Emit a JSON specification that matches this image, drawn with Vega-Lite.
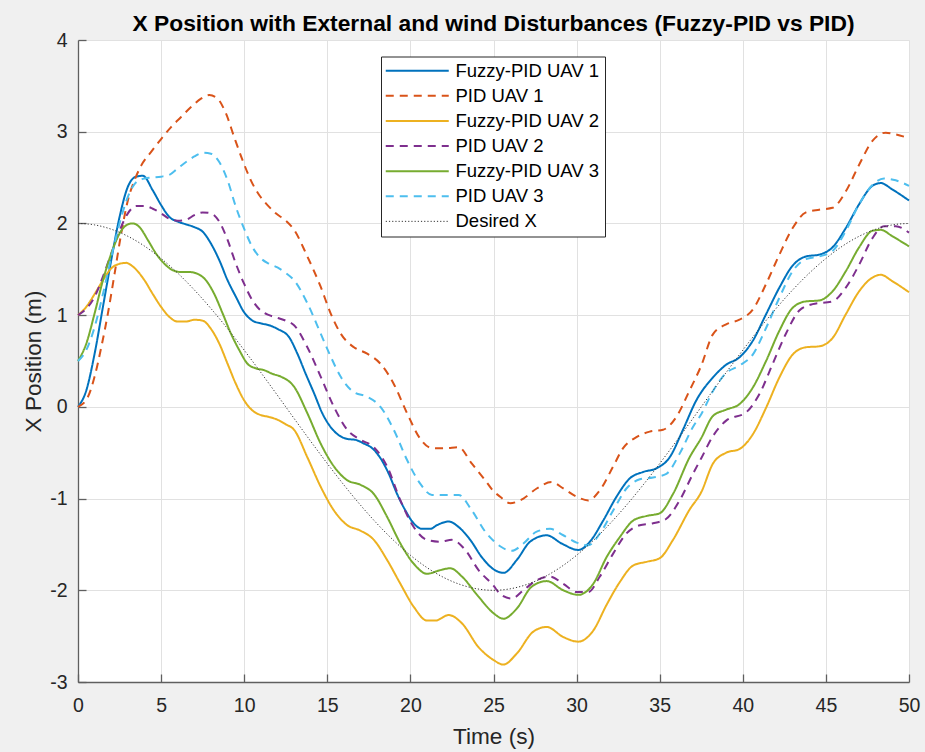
{
  "$schema": "https://vega.github.io/schema/vega-lite/v6.json",
  "width": 831,
  "height": 642,
  "autosize": {"type": "none"},
  "padding": {"left": 78, "top": 40, "right": 16, "bottom": 70},
  "background": "#f0f0f0",
  "title": {
    "text": "X Position with External and wind Disturbances (Fuzzy-PID vs PID)",
    "font": "Liberation Sans",
    "fontSize": 22.8,
    "fontWeight": "bold",
    "color": "#000000",
    "anchor": "middle",
    "offset": -6
  },
  "config": {
    "view": {"fill": "white", "stroke": null},
    "font": "Liberation Sans",
    "axis": {
      "labelFont": "Liberation Sans",
      "titleFont": "Liberation Sans",
      "labelFontSize": 19.5,
      "titleFontSize": 22.6,
      "titleFontWeight": "normal",
      "labelColor": "#262626",
      "titleColor": "#262626",
      "domainColor": "#5f5f5f",
      "domainWidth": 1.3,
      "tickColor": "#5f5f5f",
      "tickWidth": 1.3,
      "tickSize": -8,
      "gridColor": "#e1e1e1",
      "gridWidth": 1
    }
  },
  "data": {
    "values": [
      {"series": "Fuzzy-PID UAV 1", "time": 0, "pos": 0},
      {"series": "Fuzzy-PID UAV 1", "time": 0.5, "pos": 0.18},
      {"series": "Fuzzy-PID UAV 1", "time": 1.0, "pos": 0.58},
      {"series": "Fuzzy-PID UAV 1", "time": 1.5, "pos": 1.09},
      {"series": "Fuzzy-PID UAV 1", "time": 2.0, "pos": 1.6},
      {"series": "Fuzzy-PID UAV 1", "time": 2.5, "pos": 2.07},
      {"series": "Fuzzy-PID UAV 1", "time": 3.0, "pos": 2.4},
      {"series": "Fuzzy-PID UAV 1", "time": 3.5, "pos": 2.51},
      {"series": "Fuzzy-PID UAV 1", "time": 3.9, "pos": 2.52},
      {"series": "Fuzzy-PID UAV 1", "time": 4.5, "pos": 2.36},
      {"series": "Fuzzy-PID UAV 1", "time": 5.0, "pos": 2.2},
      {"series": "Fuzzy-PID UAV 1", "time": 5.5, "pos": 2.07},
      {"series": "Fuzzy-PID UAV 1", "time": 6.0, "pos": 2.02},
      {"series": "Fuzzy-PID UAV 1", "time": 6.5, "pos": 1.99},
      {"series": "Fuzzy-PID UAV 1", "time": 7.0, "pos": 1.96},
      {"series": "Fuzzy-PID UAV 1", "time": 7.5, "pos": 1.91},
      {"series": "Fuzzy-PID UAV 1", "time": 8.0, "pos": 1.78},
      {"series": "Fuzzy-PID UAV 1", "time": 8.5, "pos": 1.6},
      {"series": "Fuzzy-PID UAV 1", "time": 9.0, "pos": 1.38},
      {"series": "Fuzzy-PID UAV 1", "time": 9.5, "pos": 1.2},
      {"series": "Fuzzy-PID UAV 1", "time": 10.0, "pos": 1.03},
      {"series": "Fuzzy-PID UAV 1", "time": 10.5, "pos": 0.94},
      {"series": "Fuzzy-PID UAV 1", "time": 11.0, "pos": 0.91},
      {"series": "Fuzzy-PID UAV 1", "time": 11.5, "pos": 0.89},
      {"series": "Fuzzy-PID UAV 1", "time": 12.0, "pos": 0.85},
      {"series": "Fuzzy-PID UAV 1", "time": 12.7, "pos": 0.76},
      {"series": "Fuzzy-PID UAV 1", "time": 13.2, "pos": 0.58},
      {"series": "Fuzzy-PID UAV 1", "time": 13.7, "pos": 0.36},
      {"series": "Fuzzy-PID UAV 1", "time": 14.2, "pos": 0.15},
      {"series": "Fuzzy-PID UAV 1", "time": 14.7, "pos": -0.07},
      {"series": "Fuzzy-PID UAV 1", "time": 15.2, "pos": -0.22},
      {"series": "Fuzzy-PID UAV 1", "time": 15.7, "pos": -0.31},
      {"series": "Fuzzy-PID UAV 1", "time": 16.2, "pos": -0.35},
      {"series": "Fuzzy-PID UAV 1", "time": 16.7, "pos": -0.36},
      {"series": "Fuzzy-PID UAV 1", "time": 17.2, "pos": -0.4},
      {"series": "Fuzzy-PID UAV 1", "time": 17.7, "pos": -0.45},
      {"series": "Fuzzy-PID UAV 1", "time": 18.2, "pos": -0.56},
      {"series": "Fuzzy-PID UAV 1", "time": 18.7, "pos": -0.73},
      {"series": "Fuzzy-PID UAV 1", "time": 19.2, "pos": -0.95},
      {"series": "Fuzzy-PID UAV 1", "time": 19.7, "pos": -1.13},
      {"series": "Fuzzy-PID UAV 1", "time": 20.2, "pos": -1.27},
      {"series": "Fuzzy-PID UAV 1", "time": 20.7, "pos": -1.33},
      {"series": "Fuzzy-PID UAV 1", "time": 21.2, "pos": -1.33},
      {"series": "Fuzzy-PID UAV 1", "time": 21.6, "pos": -1.29},
      {"series": "Fuzzy-PID UAV 1", "time": 22.3, "pos": -1.25},
      {"series": "Fuzzy-PID UAV 1", "time": 22.9, "pos": -1.31},
      {"series": "Fuzzy-PID UAV 1", "time": 23.6, "pos": -1.45},
      {"series": "Fuzzy-PID UAV 1", "time": 24.3, "pos": -1.64},
      {"series": "Fuzzy-PID UAV 1", "time": 25.0, "pos": -1.77},
      {"series": "Fuzzy-PID UAV 1", "time": 25.6, "pos": -1.81},
      {"series": "Fuzzy-PID UAV 1", "time": 26.4, "pos": -1.67},
      {"series": "Fuzzy-PID UAV 1", "time": 27.2, "pos": -1.47},
      {"series": "Fuzzy-PID UAV 1", "time": 28.2, "pos": -1.4},
      {"series": "Fuzzy-PID UAV 1", "time": 29.1, "pos": -1.49},
      {"series": "Fuzzy-PID UAV 1", "time": 30.1, "pos": -1.56},
      {"series": "Fuzzy-PID UAV 1", "time": 30.8, "pos": -1.47},
      {"series": "Fuzzy-PID UAV 1", "time": 31.6, "pos": -1.24},
      {"series": "Fuzzy-PID UAV 1", "time": 32.4, "pos": -0.98},
      {"series": "Fuzzy-PID UAV 1", "time": 33.2, "pos": -0.78},
      {"series": "Fuzzy-PID UAV 1", "time": 34.0, "pos": -0.71},
      {"series": "Fuzzy-PID UAV 1", "time": 34.8, "pos": -0.67},
      {"series": "Fuzzy-PID UAV 1", "time": 35.6, "pos": -0.55},
      {"series": "Fuzzy-PID UAV 1", "time": 36.4, "pos": -0.25},
      {"series": "Fuzzy-PID UAV 1", "time": 37.2, "pos": 0.07},
      {"series": "Fuzzy-PID UAV 1", "time": 38.2, "pos": 0.32},
      {"series": "Fuzzy-PID UAV 1", "time": 39.0, "pos": 0.46},
      {"series": "Fuzzy-PID UAV 1", "time": 39.8, "pos": 0.54},
      {"series": "Fuzzy-PID UAV 1", "time": 40.6, "pos": 0.72},
      {"series": "Fuzzy-PID UAV 1", "time": 41.4, "pos": 1.01},
      {"series": "Fuzzy-PID UAV 1", "time": 42.2, "pos": 1.3},
      {"series": "Fuzzy-PID UAV 1", "time": 43.0, "pos": 1.54},
      {"series": "Fuzzy-PID UAV 1", "time": 43.8, "pos": 1.64},
      {"series": "Fuzzy-PID UAV 1", "time": 44.6, "pos": 1.66},
      {"series": "Fuzzy-PID UAV 1", "time": 45.4, "pos": 1.74},
      {"series": "Fuzzy-PID UAV 1", "time": 46.2, "pos": 1.95},
      {"series": "Fuzzy-PID UAV 1", "time": 47.0, "pos": 2.21},
      {"series": "Fuzzy-PID UAV 1", "time": 47.8, "pos": 2.41},
      {"series": "Fuzzy-PID UAV 1", "time": 48.3, "pos": 2.44},
      {"series": "Fuzzy-PID UAV 1", "time": 49.0, "pos": 2.37},
      {"series": "Fuzzy-PID UAV 1", "time": 50.0, "pos": 2.25},

      {"series": "PID UAV 1", "time": 0, "pos": 0},
      {"series": "PID UAV 1", "time": 0.6, "pos": 0.11},
      {"series": "PID UAV 1", "time": 1.0, "pos": 0.33},
      {"series": "PID UAV 1", "time": 1.4, "pos": 0.65},
      {"series": "PID UAV 1", "time": 1.8, "pos": 1.02},
      {"series": "PID UAV 1", "time": 2.2, "pos": 1.45},
      {"series": "PID UAV 1", "time": 2.6, "pos": 1.89},
      {"series": "PID UAV 1", "time": 3.0, "pos": 2.25},
      {"series": "PID UAV 1", "time": 3.4, "pos": 2.47},
      {"series": "PID UAV 1", "time": 3.8, "pos": 2.63},
      {"series": "PID UAV 1", "time": 4.4, "pos": 2.78},
      {"series": "PID UAV 1", "time": 5.0, "pos": 2.92},
      {"series": "PID UAV 1", "time": 5.6, "pos": 3.05},
      {"series": "PID UAV 1", "time": 6.2, "pos": 3.16},
      {"series": "PID UAV 1", "time": 6.8, "pos": 3.27},
      {"series": "PID UAV 1", "time": 7.4, "pos": 3.36},
      {"series": "PID UAV 1", "time": 7.9, "pos": 3.4},
      {"series": "PID UAV 1", "time": 8.4, "pos": 3.36},
      {"series": "PID UAV 1", "time": 8.9, "pos": 3.2},
      {"series": "PID UAV 1", "time": 9.4, "pos": 2.94},
      {"series": "PID UAV 1", "time": 9.9, "pos": 2.69},
      {"series": "PID UAV 1", "time": 10.4, "pos": 2.47},
      {"series": "PID UAV 1", "time": 10.9, "pos": 2.31},
      {"series": "PID UAV 1", "time": 11.4, "pos": 2.2},
      {"series": "PID UAV 1", "time": 11.9, "pos": 2.11},
      {"series": "PID UAV 1", "time": 12.5, "pos": 2.03},
      {"series": "PID UAV 1", "time": 13.0, "pos": 1.93},
      {"series": "PID UAV 1", "time": 13.8, "pos": 1.64},
      {"series": "PID UAV 1", "time": 14.6, "pos": 1.31},
      {"series": "PID UAV 1", "time": 15.2, "pos": 1.02},
      {"series": "PID UAV 1", "time": 15.8, "pos": 0.8},
      {"series": "PID UAV 1", "time": 16.6, "pos": 0.65},
      {"series": "PID UAV 1", "time": 17.4, "pos": 0.58},
      {"series": "PID UAV 1", "time": 18.2, "pos": 0.47},
      {"series": "PID UAV 1", "time": 19.0, "pos": 0.25},
      {"series": "PID UAV 1", "time": 19.8, "pos": -0.07},
      {"series": "PID UAV 1", "time": 20.6, "pos": -0.35},
      {"series": "PID UAV 1", "time": 21.3, "pos": -0.45},
      {"series": "PID UAV 1", "time": 22.1, "pos": -0.45},
      {"series": "PID UAV 1", "time": 22.9, "pos": -0.44},
      {"series": "PID UAV 1", "time": 23.7, "pos": -0.62},
      {"series": "PID UAV 1", "time": 24.5, "pos": -0.8},
      {"series": "PID UAV 1", "time": 25.0, "pos": -0.92},
      {"series": "PID UAV 1", "time": 25.4, "pos": -0.98},
      {"series": "PID UAV 1", "time": 26.0, "pos": -1.05},
      {"series": "PID UAV 1", "time": 26.8, "pos": -1.0},
      {"series": "PID UAV 1", "time": 27.6, "pos": -0.89},
      {"series": "PID UAV 1", "time": 28.5, "pos": -0.82},
      {"series": "PID UAV 1", "time": 29.2, "pos": -0.89},
      {"series": "PID UAV 1", "time": 30.0, "pos": -0.98},
      {"series": "PID UAV 1", "time": 30.7, "pos": -1.02},
      {"series": "PID UAV 1", "time": 31.4, "pos": -0.91},
      {"series": "PID UAV 1", "time": 32.2, "pos": -0.65},
      {"series": "PID UAV 1", "time": 32.8, "pos": -0.45},
      {"series": "PID UAV 1", "time": 33.6, "pos": -0.33},
      {"series": "PID UAV 1", "time": 34.4, "pos": -0.27},
      {"series": "PID UAV 1", "time": 35.2, "pos": -0.25},
      {"series": "PID UAV 1", "time": 36.0, "pos": -0.11},
      {"series": "PID UAV 1", "time": 36.8, "pos": 0.18},
      {"series": "PID UAV 1", "time": 37.5, "pos": 0.45},
      {"series": "PID UAV 1", "time": 38.2, "pos": 0.79},
      {"series": "PID UAV 1", "time": 39.0, "pos": 0.9},
      {"series": "PID UAV 1", "time": 39.8, "pos": 0.95},
      {"series": "PID UAV 1", "time": 40.6, "pos": 1.06},
      {"series": "PID UAV 1", "time": 41.4, "pos": 1.34},
      {"series": "PID UAV 1", "time": 42.2, "pos": 1.66},
      {"series": "PID UAV 1", "time": 43.0, "pos": 1.95},
      {"series": "PID UAV 1", "time": 43.8, "pos": 2.12},
      {"series": "PID UAV 1", "time": 44.6, "pos": 2.15},
      {"series": "PID UAV 1", "time": 45.4, "pos": 2.17},
      {"series": "PID UAV 1", "time": 46.2, "pos": 2.35},
      {"series": "PID UAV 1", "time": 47.0, "pos": 2.64},
      {"series": "PID UAV 1", "time": 47.8, "pos": 2.9},
      {"series": "PID UAV 1", "time": 48.6, "pos": 2.99},
      {"series": "PID UAV 1", "time": 49.2, "pos": 2.97},
      {"series": "PID UAV 1", "time": 50.0, "pos": 2.93},

      {"series": "Fuzzy-PID UAV 2", "time": 0, "pos": 1.0},
      {"series": "Fuzzy-PID UAV 2", "time": 0.5, "pos": 1.09},
      {"series": "Fuzzy-PID UAV 2", "time": 1.0, "pos": 1.23},
      {"series": "Fuzzy-PID UAV 2", "time": 1.5, "pos": 1.38},
      {"series": "Fuzzy-PID UAV 2", "time": 2.0, "pos": 1.51},
      {"series": "Fuzzy-PID UAV 2", "time": 2.5, "pos": 1.56},
      {"series": "Fuzzy-PID UAV 2", "time": 2.9, "pos": 1.57},
      {"series": "Fuzzy-PID UAV 2", "time": 3.3, "pos": 1.53},
      {"series": "Fuzzy-PID UAV 2", "time": 4.0, "pos": 1.38},
      {"series": "Fuzzy-PID UAV 2", "time": 4.5, "pos": 1.23},
      {"series": "Fuzzy-PID UAV 2", "time": 5.0, "pos": 1.09},
      {"series": "Fuzzy-PID UAV 2", "time": 5.5, "pos": 0.98},
      {"series": "Fuzzy-PID UAV 2", "time": 6.0, "pos": 0.93},
      {"series": "Fuzzy-PID UAV 2", "time": 6.5, "pos": 0.93},
      {"series": "Fuzzy-PID UAV 2", "time": 7.0, "pos": 0.95},
      {"series": "Fuzzy-PID UAV 2", "time": 7.5, "pos": 0.94},
      {"series": "Fuzzy-PID UAV 2", "time": 8.0, "pos": 0.85},
      {"series": "Fuzzy-PID UAV 2", "time": 8.5, "pos": 0.69},
      {"series": "Fuzzy-PID UAV 2", "time": 9.0, "pos": 0.47},
      {"series": "Fuzzy-PID UAV 2", "time": 9.5, "pos": 0.25},
      {"series": "Fuzzy-PID UAV 2", "time": 10.0, "pos": 0.07},
      {"series": "Fuzzy-PID UAV 2", "time": 10.5, "pos": -0.04},
      {"series": "Fuzzy-PID UAV 2", "time": 11.0, "pos": -0.09},
      {"series": "Fuzzy-PID UAV 2", "time": 11.5, "pos": -0.11},
      {"series": "Fuzzy-PID UAV 2", "time": 12.0, "pos": -0.14},
      {"series": "Fuzzy-PID UAV 2", "time": 12.5, "pos": -0.19},
      {"series": "Fuzzy-PID UAV 2", "time": 13.0, "pos": -0.25},
      {"series": "Fuzzy-PID UAV 2", "time": 13.8, "pos": -0.55},
      {"series": "Fuzzy-PID UAV 2", "time": 14.6, "pos": -0.87},
      {"series": "Fuzzy-PID UAV 2", "time": 15.4, "pos": -1.13},
      {"series": "Fuzzy-PID UAV 2", "time": 16.2, "pos": -1.29},
      {"series": "Fuzzy-PID UAV 2", "time": 17.0, "pos": -1.35},
      {"series": "Fuzzy-PID UAV 2", "time": 17.8, "pos": -1.45},
      {"series": "Fuzzy-PID UAV 2", "time": 18.6, "pos": -1.67},
      {"series": "Fuzzy-PID UAV 2", "time": 19.4, "pos": -1.93},
      {"series": "Fuzzy-PID UAV 2", "time": 20.2, "pos": -2.18},
      {"series": "Fuzzy-PID UAV 2", "time": 21.0, "pos": -2.33},
      {"series": "Fuzzy-PID UAV 2", "time": 21.5, "pos": -2.33},
      {"series": "Fuzzy-PID UAV 2", "time": 22.3, "pos": -2.27},
      {"series": "Fuzzy-PID UAV 2", "time": 23.1, "pos": -2.36},
      {"series": "Fuzzy-PID UAV 2", "time": 24.1, "pos": -2.62},
      {"series": "Fuzzy-PID UAV 2", "time": 25.0, "pos": -2.76},
      {"series": "Fuzzy-PID UAV 2", "time": 25.6, "pos": -2.81},
      {"series": "Fuzzy-PID UAV 2", "time": 26.4, "pos": -2.69},
      {"series": "Fuzzy-PID UAV 2", "time": 27.4, "pos": -2.45},
      {"series": "Fuzzy-PID UAV 2", "time": 28.2, "pos": -2.4},
      {"series": "Fuzzy-PID UAV 2", "time": 29.2, "pos": -2.51},
      {"series": "Fuzzy-PID UAV 2", "time": 30.1, "pos": -2.56},
      {"series": "Fuzzy-PID UAV 2", "time": 31.0, "pos": -2.44},
      {"series": "Fuzzy-PID UAV 2", "time": 31.8, "pos": -2.16},
      {"series": "Fuzzy-PID UAV 2", "time": 32.6, "pos": -1.91},
      {"series": "Fuzzy-PID UAV 2", "time": 33.4, "pos": -1.73},
      {"series": "Fuzzy-PID UAV 2", "time": 34.2, "pos": -1.69},
      {"series": "Fuzzy-PID UAV 2", "time": 35.0, "pos": -1.65},
      {"series": "Fuzzy-PID UAV 2", "time": 35.8, "pos": -1.45},
      {"series": "Fuzzy-PID UAV 2", "time": 36.8, "pos": -1.12},
      {"series": "Fuzzy-PID UAV 2", "time": 37.5, "pos": -0.93},
      {"series": "Fuzzy-PID UAV 2", "time": 38.2, "pos": -0.62},
      {"series": "Fuzzy-PID UAV 2", "time": 39.0, "pos": -0.5},
      {"series": "Fuzzy-PID UAV 2", "time": 39.8, "pos": -0.46},
      {"series": "Fuzzy-PID UAV 2", "time": 40.6, "pos": -0.3},
      {"series": "Fuzzy-PID UAV 2", "time": 41.4, "pos": -0.01},
      {"series": "Fuzzy-PID UAV 2", "time": 42.2, "pos": 0.32},
      {"series": "Fuzzy-PID UAV 2", "time": 43.0, "pos": 0.57},
      {"series": "Fuzzy-PID UAV 2", "time": 43.8, "pos": 0.65},
      {"series": "Fuzzy-PID UAV 2", "time": 44.6, "pos": 0.66},
      {"series": "Fuzzy-PID UAV 2", "time": 45.4, "pos": 0.75},
      {"series": "Fuzzy-PID UAV 2", "time": 46.2, "pos": 1.01},
      {"series": "Fuzzy-PID UAV 2", "time": 47.0, "pos": 1.26},
      {"series": "Fuzzy-PID UAV 2", "time": 47.8, "pos": 1.41},
      {"series": "Fuzzy-PID UAV 2", "time": 48.3, "pos": 1.44},
      {"series": "Fuzzy-PID UAV 2", "time": 49.0, "pos": 1.37},
      {"series": "Fuzzy-PID UAV 2", "time": 50.0, "pos": 1.25},

      {"series": "PID UAV 2", "time": 0, "pos": 1.0},
      {"series": "PID UAV 2", "time": 0.5, "pos": 1.07},
      {"series": "PID UAV 2", "time": 1.0, "pos": 1.2},
      {"series": "PID UAV 2", "time": 1.5, "pos": 1.42},
      {"series": "PID UAV 2", "time": 2.0, "pos": 1.67},
      {"series": "PID UAV 2", "time": 2.5, "pos": 1.92},
      {"series": "PID UAV 2", "time": 3.0, "pos": 2.11},
      {"series": "PID UAV 2", "time": 3.5, "pos": 2.19},
      {"series": "PID UAV 2", "time": 4.0, "pos": 2.19},
      {"series": "PID UAV 2", "time": 4.5, "pos": 2.16},
      {"series": "PID UAV 2", "time": 5.0, "pos": 2.11},
      {"series": "PID UAV 2", "time": 5.5, "pos": 2.05},
      {"series": "PID UAV 2", "time": 6.0, "pos": 2.03},
      {"series": "PID UAV 2", "time": 6.5, "pos": 2.04},
      {"series": "PID UAV 2", "time": 7.0, "pos": 2.09},
      {"series": "PID UAV 2", "time": 7.5, "pos": 2.12},
      {"series": "PID UAV 2", "time": 8.0, "pos": 2.11},
      {"series": "PID UAV 2", "time": 8.5, "pos": 2.02},
      {"series": "PID UAV 2", "time": 9.0, "pos": 1.82},
      {"series": "PID UAV 2", "time": 9.5, "pos": 1.56},
      {"series": "PID UAV 2", "time": 10.0, "pos": 1.34},
      {"series": "PID UAV 2", "time": 10.5, "pos": 1.16},
      {"series": "PID UAV 2", "time": 11.0, "pos": 1.05},
      {"series": "PID UAV 2", "time": 11.5, "pos": 1.0},
      {"series": "PID UAV 2", "time": 12.0, "pos": 0.97},
      {"series": "PID UAV 2", "time": 12.5, "pos": 0.94},
      {"series": "PID UAV 2", "time": 13.0, "pos": 0.89},
      {"series": "PID UAV 2", "time": 13.8, "pos": 0.65},
      {"series": "PID UAV 2", "time": 14.6, "pos": 0.33},
      {"series": "PID UAV 2", "time": 15.4, "pos": 0.0},
      {"series": "PID UAV 2", "time": 16.2, "pos": -0.25},
      {"series": "PID UAV 2", "time": 17.0, "pos": -0.36},
      {"series": "PID UAV 2", "time": 17.8, "pos": -0.44},
      {"series": "PID UAV 2", "time": 18.6, "pos": -0.65},
      {"series": "PID UAV 2", "time": 19.4, "pos": -1.02},
      {"series": "PID UAV 2", "time": 20.2, "pos": -1.31},
      {"series": "PID UAV 2", "time": 21.0, "pos": -1.45},
      {"series": "PID UAV 2", "time": 21.8, "pos": -1.47},
      {"series": "PID UAV 2", "time": 22.5, "pos": -1.45},
      {"series": "PID UAV 2", "time": 23.3, "pos": -1.56},
      {"series": "PID UAV 2", "time": 24.1, "pos": -1.78},
      {"series": "PID UAV 2", "time": 25.0, "pos": -1.95},
      {"series": "PID UAV 2", "time": 25.4, "pos": -2.04},
      {"series": "PID UAV 2", "time": 26.1, "pos": -2.09},
      {"series": "PID UAV 2", "time": 26.8, "pos": -2.0},
      {"series": "PID UAV 2", "time": 27.6, "pos": -1.89},
      {"series": "PID UAV 2", "time": 28.4, "pos": -1.85},
      {"series": "PID UAV 2", "time": 29.2, "pos": -1.93},
      {"series": "PID UAV 2", "time": 30.0, "pos": -2.02},
      {"series": "PID UAV 2", "time": 30.7, "pos": -2.02},
      {"series": "PID UAV 2", "time": 31.4, "pos": -1.85},
      {"series": "PID UAV 2", "time": 32.2, "pos": -1.6},
      {"series": "PID UAV 2", "time": 33.0, "pos": -1.38},
      {"series": "PID UAV 2", "time": 33.8, "pos": -1.29},
      {"series": "PID UAV 2", "time": 34.6, "pos": -1.27},
      {"series": "PID UAV 2", "time": 35.4, "pos": -1.22},
      {"series": "PID UAV 2", "time": 36.2, "pos": -1.02},
      {"series": "PID UAV 2", "time": 37.0, "pos": -0.73},
      {"series": "PID UAV 2", "time": 37.5, "pos": -0.56},
      {"series": "PID UAV 2", "time": 38.2, "pos": -0.32},
      {"series": "PID UAV 2", "time": 39.0, "pos": -0.15},
      {"series": "PID UAV 2", "time": 40.2, "pos": -0.06},
      {"series": "PID UAV 2", "time": 41.0, "pos": 0.14},
      {"series": "PID UAV 2", "time": 41.8, "pos": 0.47},
      {"series": "PID UAV 2", "time": 42.6, "pos": 0.8},
      {"series": "PID UAV 2", "time": 43.4, "pos": 1.05},
      {"series": "PID UAV 2", "time": 44.2, "pos": 1.12},
      {"series": "PID UAV 2", "time": 45.4, "pos": 1.15},
      {"series": "PID UAV 2", "time": 46.2, "pos": 1.3},
      {"series": "PID UAV 2", "time": 47.0, "pos": 1.55},
      {"series": "PID UAV 2", "time": 47.8, "pos": 1.84},
      {"series": "PID UAV 2", "time": 48.5, "pos": 1.97},
      {"series": "PID UAV 2", "time": 49.2, "pos": 1.97},
      {"series": "PID UAV 2", "time": 50.0, "pos": 1.9},

      {"series": "Fuzzy-PID UAV 3", "time": 0, "pos": 0.5},
      {"series": "Fuzzy-PID UAV 3", "time": 0.5, "pos": 0.69},
      {"series": "Fuzzy-PID UAV 3", "time": 1.0, "pos": 1.02},
      {"series": "Fuzzy-PID UAV 3", "time": 1.5, "pos": 1.38},
      {"series": "Fuzzy-PID UAV 3", "time": 2.0, "pos": 1.67},
      {"series": "Fuzzy-PID UAV 3", "time": 2.5, "pos": 1.89},
      {"series": "Fuzzy-PID UAV 3", "time": 3.0, "pos": 1.99},
      {"series": "Fuzzy-PID UAV 3", "time": 3.3, "pos": 2.0},
      {"series": "Fuzzy-PID UAV 3", "time": 3.7, "pos": 1.96},
      {"series": "Fuzzy-PID UAV 3", "time": 4.2, "pos": 1.82},
      {"series": "Fuzzy-PID UAV 3", "time": 4.7, "pos": 1.67},
      {"series": "Fuzzy-PID UAV 3", "time": 5.2, "pos": 1.56},
      {"series": "Fuzzy-PID UAV 3", "time": 5.7, "pos": 1.49},
      {"series": "Fuzzy-PID UAV 3", "time": 6.2, "pos": 1.47},
      {"series": "Fuzzy-PID UAV 3", "time": 6.7, "pos": 1.47},
      {"series": "Fuzzy-PID UAV 3", "time": 7.2, "pos": 1.45},
      {"series": "Fuzzy-PID UAV 3", "time": 7.7, "pos": 1.38},
      {"series": "Fuzzy-PID UAV 3", "time": 8.2, "pos": 1.23},
      {"series": "Fuzzy-PID UAV 3", "time": 8.7, "pos": 1.02},
      {"series": "Fuzzy-PID UAV 3", "time": 9.2, "pos": 0.8},
      {"series": "Fuzzy-PID UAV 3", "time": 9.7, "pos": 0.62},
      {"series": "Fuzzy-PID UAV 3", "time": 10.2, "pos": 0.47},
      {"series": "Fuzzy-PID UAV 3", "time": 10.7, "pos": 0.42},
      {"series": "Fuzzy-PID UAV 3", "time": 11.2, "pos": 0.4},
      {"series": "Fuzzy-PID UAV 3", "time": 11.7, "pos": 0.36},
      {"series": "Fuzzy-PID UAV 3", "time": 12.2, "pos": 0.33},
      {"series": "Fuzzy-PID UAV 3", "time": 13.0, "pos": 0.22},
      {"series": "Fuzzy-PID UAV 3", "time": 13.8, "pos": -0.07},
      {"series": "Fuzzy-PID UAV 3", "time": 14.6, "pos": -0.4},
      {"series": "Fuzzy-PID UAV 3", "time": 15.4, "pos": -0.65},
      {"series": "Fuzzy-PID UAV 3", "time": 16.2, "pos": -0.8},
      {"series": "Fuzzy-PID UAV 3", "time": 17.0, "pos": -0.85},
      {"series": "Fuzzy-PID UAV 3", "time": 17.8, "pos": -0.95},
      {"series": "Fuzzy-PID UAV 3", "time": 18.6, "pos": -1.2},
      {"series": "Fuzzy-PID UAV 3", "time": 19.4, "pos": -1.49},
      {"series": "Fuzzy-PID UAV 3", "time": 20.2, "pos": -1.71},
      {"series": "Fuzzy-PID UAV 3", "time": 21.0, "pos": -1.82},
      {"series": "Fuzzy-PID UAV 3", "time": 21.8, "pos": -1.78},
      {"series": "Fuzzy-PID UAV 3", "time": 22.4, "pos": -1.76},
      {"series": "Fuzzy-PID UAV 3", "time": 23.1, "pos": -1.85},
      {"series": "Fuzzy-PID UAV 3", "time": 24.1, "pos": -2.07},
      {"series": "Fuzzy-PID UAV 3", "time": 25.0, "pos": -2.25},
      {"series": "Fuzzy-PID UAV 3", "time": 25.6, "pos": -2.31},
      {"series": "Fuzzy-PID UAV 3", "time": 26.4, "pos": -2.2},
      {"series": "Fuzzy-PID UAV 3", "time": 27.3, "pos": -1.96},
      {"series": "Fuzzy-PID UAV 3", "time": 28.2, "pos": -1.9},
      {"series": "Fuzzy-PID UAV 3", "time": 29.2, "pos": -2.0},
      {"series": "Fuzzy-PID UAV 3", "time": 30.1, "pos": -2.05},
      {"series": "Fuzzy-PID UAV 3", "time": 31.0, "pos": -1.93},
      {"series": "Fuzzy-PID UAV 3", "time": 31.8, "pos": -1.64},
      {"series": "Fuzzy-PID UAV 3", "time": 32.6, "pos": -1.42},
      {"series": "Fuzzy-PID UAV 3", "time": 33.4, "pos": -1.24},
      {"series": "Fuzzy-PID UAV 3", "time": 34.2, "pos": -1.19},
      {"series": "Fuzzy-PID UAV 3", "time": 35.0, "pos": -1.16},
      {"series": "Fuzzy-PID UAV 3", "time": 35.8, "pos": -0.95},
      {"series": "Fuzzy-PID UAV 3", "time": 36.8, "pos": -0.55},
      {"series": "Fuzzy-PID UAV 3", "time": 37.5, "pos": -0.34},
      {"series": "Fuzzy-PID UAV 3", "time": 38.2, "pos": -0.1},
      {"series": "Fuzzy-PID UAV 3", "time": 39.0, "pos": -0.03},
      {"series": "Fuzzy-PID UAV 3", "time": 39.8, "pos": 0.03},
      {"series": "Fuzzy-PID UAV 3", "time": 40.6, "pos": 0.21},
      {"series": "Fuzzy-PID UAV 3", "time": 41.4, "pos": 0.5},
      {"series": "Fuzzy-PID UAV 3", "time": 42.2, "pos": 0.83},
      {"series": "Fuzzy-PID UAV 3", "time": 43.0, "pos": 1.08},
      {"series": "Fuzzy-PID UAV 3", "time": 43.8, "pos": 1.15},
      {"series": "Fuzzy-PID UAV 3", "time": 44.6, "pos": 1.16},
      {"series": "Fuzzy-PID UAV 3", "time": 45.4, "pos": 1.26},
      {"series": "Fuzzy-PID UAV 3", "time": 46.2, "pos": 1.48},
      {"series": "Fuzzy-PID UAV 3", "time": 47.0, "pos": 1.74},
      {"series": "Fuzzy-PID UAV 3", "time": 47.8, "pos": 1.92},
      {"series": "Fuzzy-PID UAV 3", "time": 48.3, "pos": 1.93},
      {"series": "Fuzzy-PID UAV 3", "time": 49.0, "pos": 1.86},
      {"series": "Fuzzy-PID UAV 3", "time": 50.0, "pos": 1.75},

      {"series": "PID UAV 3", "time": 0, "pos": 0.5},
      {"series": "PID UAV 3", "time": 0.5, "pos": 0.62},
      {"series": "PID UAV 3", "time": 1.0, "pos": 0.87},
      {"series": "PID UAV 3", "time": 1.5, "pos": 1.23},
      {"series": "PID UAV 3", "time": 2.0, "pos": 1.63},
      {"series": "PID UAV 3", "time": 2.5, "pos": 2.0},
      {"series": "PID UAV 3", "time": 3.0, "pos": 2.29},
      {"series": "PID UAV 3", "time": 3.5, "pos": 2.45},
      {"series": "PID UAV 3", "time": 4.0, "pos": 2.49},
      {"series": "PID UAV 3", "time": 4.5, "pos": 2.5},
      {"series": "PID UAV 3", "time": 5.0, "pos": 2.51},
      {"series": "PID UAV 3", "time": 5.5, "pos": 2.53},
      {"series": "PID UAV 3", "time": 6.0, "pos": 2.6},
      {"series": "PID UAV 3", "time": 6.5, "pos": 2.67},
      {"series": "PID UAV 3", "time": 7.0, "pos": 2.73},
      {"series": "PID UAV 3", "time": 7.5, "pos": 2.77},
      {"series": "PID UAV 3", "time": 8.0, "pos": 2.76},
      {"series": "PID UAV 3", "time": 8.5, "pos": 2.67},
      {"series": "PID UAV 3", "time": 9.0, "pos": 2.47},
      {"series": "PID UAV 3", "time": 9.5, "pos": 2.18},
      {"series": "PID UAV 3", "time": 10.0, "pos": 1.94},
      {"series": "PID UAV 3", "time": 10.5, "pos": 1.74},
      {"series": "PID UAV 3", "time": 11.0, "pos": 1.62},
      {"series": "PID UAV 3", "time": 11.5, "pos": 1.56},
      {"series": "PID UAV 3", "time": 12.0, "pos": 1.52},
      {"series": "PID UAV 3", "time": 12.5, "pos": 1.46},
      {"series": "PID UAV 3", "time": 13.0, "pos": 1.38},
      {"series": "PID UAV 3", "time": 13.8, "pos": 1.13},
      {"series": "PID UAV 3", "time": 14.6, "pos": 0.8},
      {"series": "PID UAV 3", "time": 15.2, "pos": 0.55},
      {"series": "PID UAV 3", "time": 15.8, "pos": 0.33},
      {"series": "PID UAV 3", "time": 16.6, "pos": 0.16},
      {"series": "PID UAV 3", "time": 17.4, "pos": 0.11},
      {"series": "PID UAV 3", "time": 18.2, "pos": 0.0},
      {"series": "PID UAV 3", "time": 19.0, "pos": -0.25},
      {"series": "PID UAV 3", "time": 19.8, "pos": -0.58},
      {"series": "PID UAV 3", "time": 20.6, "pos": -0.84},
      {"series": "PID UAV 3", "time": 21.3, "pos": -0.96},
      {"series": "PID UAV 3", "time": 22.1, "pos": -0.96},
      {"series": "PID UAV 3", "time": 22.9, "pos": -0.96},
      {"series": "PID UAV 3", "time": 23.7, "pos": -1.13},
      {"series": "PID UAV 3", "time": 24.5, "pos": -1.36},
      {"series": "PID UAV 3", "time": 25.0, "pos": -1.46},
      {"series": "PID UAV 3", "time": 25.4, "pos": -1.52},
      {"series": "PID UAV 3", "time": 26.1, "pos": -1.57},
      {"series": "PID UAV 3", "time": 26.8, "pos": -1.49},
      {"series": "PID UAV 3", "time": 27.6, "pos": -1.36},
      {"series": "PID UAV 3", "time": 28.4, "pos": -1.33},
      {"series": "PID UAV 3", "time": 29.2, "pos": -1.4},
      {"series": "PID UAV 3", "time": 30.0, "pos": -1.48},
      {"series": "PID UAV 3", "time": 30.7, "pos": -1.51},
      {"series": "PID UAV 3", "time": 31.4, "pos": -1.38},
      {"series": "PID UAV 3", "time": 32.2, "pos": -1.13},
      {"series": "PID UAV 3", "time": 33.0, "pos": -0.89},
      {"series": "PID UAV 3", "time": 33.8, "pos": -0.79},
      {"series": "PID UAV 3", "time": 34.6, "pos": -0.77},
      {"series": "PID UAV 3", "time": 35.4, "pos": -0.73},
      {"series": "PID UAV 3", "time": 36.2, "pos": -0.51},
      {"series": "PID UAV 3", "time": 37.0, "pos": -0.22},
      {"series": "PID UAV 3", "time": 37.5, "pos": -0.08},
      {"series": "PID UAV 3", "time": 38.2, "pos": 0.17},
      {"series": "PID UAV 3", "time": 39.0, "pos": 0.37},
      {"series": "PID UAV 3", "time": 39.8, "pos": 0.45},
      {"series": "PID UAV 3", "time": 40.6, "pos": 0.57},
      {"series": "PID UAV 3", "time": 41.4, "pos": 0.86},
      {"series": "PID UAV 3", "time": 42.2, "pos": 1.19},
      {"series": "PID UAV 3", "time": 43.0, "pos": 1.48},
      {"series": "PID UAV 3", "time": 43.8, "pos": 1.61},
      {"series": "PID UAV 3", "time": 44.6, "pos": 1.64},
      {"series": "PID UAV 3", "time": 45.4, "pos": 1.7},
      {"series": "PID UAV 3", "time": 46.2, "pos": 1.92},
      {"series": "PID UAV 3", "time": 47.0, "pos": 2.21},
      {"series": "PID UAV 3", "time": 47.8, "pos": 2.42},
      {"series": "PID UAV 3", "time": 48.5, "pos": 2.49},
      {"series": "PID UAV 3", "time": 49.2, "pos": 2.47},
      {"series": "PID UAV 3", "time": 50.0, "pos": 2.41},

      {"series": "Desired X", "time": 0, "pos": 2.0},
      {"series": "Desired X", "time": 1, "pos": 1.984},
      {"series": "Desired X", "time": 2, "pos": 1.937},
      {"series": "Desired X", "time": 3, "pos": 1.86},
      {"series": "Desired X", "time": 4, "pos": 1.753},
      {"series": "Desired X", "time": 5, "pos": 1.618},
      {"series": "Desired X", "time": 6, "pos": 1.458},
      {"series": "Desired X", "time": 7, "pos": 1.275},
      {"series": "Desired X", "time": 8, "pos": 1.072},
      {"series": "Desired X", "time": 9, "pos": 0.852},
      {"series": "Desired X", "time": 10, "pos": 0.618},
      {"series": "Desired X", "time": 11, "pos": 0.375},
      {"series": "Desired X", "time": 12, "pos": 0.126},
      {"series": "Desired X", "time": 13, "pos": -0.126},
      {"series": "Desired X", "time": 14, "pos": -0.375},
      {"series": "Desired X", "time": 15, "pos": -0.618},
      {"series": "Desired X", "time": 16, "pos": -0.852},
      {"series": "Desired X", "time": 17, "pos": -1.072},
      {"series": "Desired X", "time": 18, "pos": -1.275},
      {"series": "Desired X", "time": 19, "pos": -1.458},
      {"series": "Desired X", "time": 20, "pos": -1.618},
      {"series": "Desired X", "time": 21, "pos": -1.753},
      {"series": "Desired X", "time": 22, "pos": -1.86},
      {"series": "Desired X", "time": 23, "pos": -1.937},
      {"series": "Desired X", "time": 24, "pos": -1.984},
      {"series": "Desired X", "time": 25, "pos": -2.0},
      {"series": "Desired X", "time": 26, "pos": -1.984},
      {"series": "Desired X", "time": 27, "pos": -1.937},
      {"series": "Desired X", "time": 28, "pos": -1.86},
      {"series": "Desired X", "time": 29, "pos": -1.753},
      {"series": "Desired X", "time": 30, "pos": -1.618},
      {"series": "Desired X", "time": 31, "pos": -1.458},
      {"series": "Desired X", "time": 32, "pos": -1.275},
      {"series": "Desired X", "time": 33, "pos": -1.072},
      {"series": "Desired X", "time": 34, "pos": -0.852},
      {"series": "Desired X", "time": 35, "pos": -0.618},
      {"series": "Desired X", "time": 36, "pos": -0.375},
      {"series": "Desired X", "time": 37, "pos": -0.126},
      {"series": "Desired X", "time": 38, "pos": 0.126},
      {"series": "Desired X", "time": 39, "pos": 0.375},
      {"series": "Desired X", "time": 40, "pos": 0.618},
      {"series": "Desired X", "time": 41, "pos": 0.852},
      {"series": "Desired X", "time": 42, "pos": 1.072},
      {"series": "Desired X", "time": 43, "pos": 1.275},
      {"series": "Desired X", "time": 44, "pos": 1.458},
      {"series": "Desired X", "time": 45, "pos": 1.618},
      {"series": "Desired X", "time": 46, "pos": 1.753},
      {"series": "Desired X", "time": 47, "pos": 1.86},
      {"series": "Desired X", "time": 48, "pos": 1.937},
      {"series": "Desired X", "time": 49, "pos": 1.984},
      {"series": "Desired X", "time": 50, "pos": 2.0}
    ]
  },
  "mark": {"type": "line", "interpolate": "monotone"},
  "encoding": {
    "x": {
      "field": "time",
      "type": "quantitative",
      "scale": {"domain": [0, 50], "nice": false, "zero": false},
      "axis": {
        "title": "Time (s)",
        "values": [0, 5, 10, 15, 20, 25, 30, 35, 40, 45, 50],
        "grid": true,
        "labelPadding": 22,
        "titlePadding": 11,
        "labelFlush": false
      }
    },
    "y": {
      "field": "pos",
      "type": "quantitative",
      "scale": {"domain": [-3, 4], "nice": false, "zero": false},
      "axis": {
        "title": "X Position (m)",
        "values": [-3, -2, -1, 0, 1, 2, 3, 4],
        "grid": true,
        "labelPadding": 19,
        "titlePadding": 4,
        "labelFlush": false,
        "labelExpr": "datum.value < 0 ? '-' + abs(datum.value) : '' + datum.value"
      }
    },
    "color": {
      "field": "series",
      "type": "nominal",
      "scale": {
        "domain": ["Fuzzy-PID UAV 1", "PID UAV 1", "Fuzzy-PID UAV 2", "PID UAV 2", "Fuzzy-PID UAV 3", "PID UAV 3", "Desired X"],
        "range": ["#0072BD", "#D95319", "#EDB120", "#7E2F8E", "#77AC30", "#4DBEEE", "#333333"]
      },
      "legend": {
        "title": null,
        "orient": "none",
        "legendX": 303,
        "legendY": 16.5,
        "direction": "vertical",
        "fillColor": "white",
        "strokeColor": "#262626",
        "padding": 5,
        "symbolType": "stroke",
        "symbolSize": 3969,
        "symbolStrokeWidth": 2,
        "symbolOffset": 22,
        "labelFont": "Liberation Sans",
        "labelFontSize": 18.5,
        "labelColor": "#000000",
        "labelOffset": 29,
        "labelLimit": 300,
        "rowPadding": 6.1,
        "encode": {
          "symbols": {
            "update": {"strokeWidth": {"signal": "datum.value === 'Desired X' ? 1 : 2"}}
          }
        }
      }
    },
    "strokeDash": {
      "field": "series",
      "type": "nominal",
      "scale": {
        "domain": ["Fuzzy-PID UAV 1", "PID UAV 1", "Fuzzy-PID UAV 2", "PID UAV 2", "Fuzzy-PID UAV 3", "PID UAV 3", "Desired X"],
        "range": [[1, 0], [8, 6], [1, 0], [8, 6], [1, 0], [8, 6], [1.2, 2]]
      }
    },
    "strokeWidth": {
      "condition": {"test": "datum.series === 'Desired X'", "value": 1},
      "value": 2
    }
  }
}
